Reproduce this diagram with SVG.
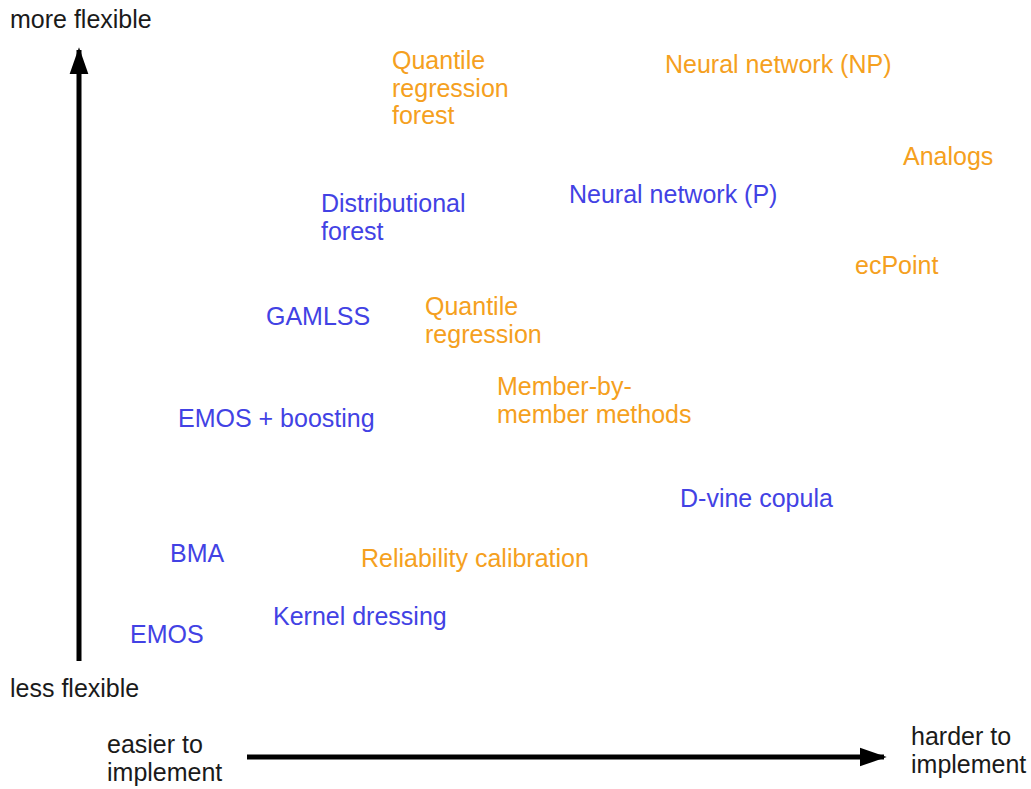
<svg xmlns="http://www.w3.org/2000/svg" width="1031" height="789" viewBox="0 0 1031 789">
<defs>
<style>
text{font-family:"Liberation Sans",Arial,sans-serif;font-size:25px}
.b{fill:#4242e4}
.o{fill:#f5a020}
.k{fill:#1a1a1a}
.ax{stroke:#000;stroke-width:5;fill:none}
</style>
<marker id="ah" viewBox="0 0 10 10" refX="9" refY="5" markerWidth="5.4" markerHeight="5.4" markerUnits="strokeWidth" orient="auto">
<path d="M0,1.5 L10,5 L0,8.5 Z" fill="#000"/>
</marker>
</defs>
<rect width="1031" height="789" fill="#fff"/>
<g id="connectors">
<line class="ax" x1="79" y1="661" x2="79" y2="50" marker-end="url(#ah)"/>
<line class="ax" x1="247" y1="757" x2="884" y2="757" marker-end="url(#ah)"/>
</g>
<g id="axis-labels">
<text class="k" x="10" y="28">more flexible</text>
<text class="k" x="10" y="697">less flexible</text>
<text class="k" x="107" y="753">easier to<tspan x="107" dy="28">implement</tspan></text>
<text class="k" x="911" y="745">harder to<tspan x="911" dy="28">implement</tspan></text>
</g>
<g id="qrf"><text class="o" x="392" y="69">Quantile<tspan x="392" dy="27.5">regression</tspan><tspan x="392" dy="27.5">forest</tspan></text></g>
<g id="nn-np"><text class="o" x="665" y="73">Neural network (NP)</text></g>
<g id="analogs"><text class="o" x="903" y="165">Analogs</text></g>
<g id="nn-p"><text class="b" x="569" y="203">Neural network (P)</text></g>
<g id="distforest"><text class="b" x="321" y="212">Distributional<tspan x="321" dy="27.5">forest</tspan></text></g>
<g id="ecpoint"><text class="o" x="855" y="274">ecPoint</text></g>
<g id="gamlss"><text class="b" x="266" y="325">GAMLSS</text></g>
<g id="qr"><text class="o" x="425" y="315">Quantile<tspan x="425" dy="27.5">regression</tspan></text></g>
<g id="mbm"><text class="o" x="497" y="395">Member-by-<tspan x="497" dy="27.5">member methods</tspan></text></g>
<g id="emos-boost"><text class="b" x="178" y="427">EMOS + boosting</text></g>
<g id="dvine"><text class="b" x="680" y="507">D-vine copula</text></g>
<g id="bma"><text class="b" x="170" y="562">BMA</text></g>
<g id="relcal"><text class="o" x="361" y="567">Reliability calibration</text></g>
<g id="kernel"><text class="b" x="273" y="625">Kernel dressing</text></g>
<g id="emos"><text class="b" x="130" y="643">EMOS</text></g>
</svg>
